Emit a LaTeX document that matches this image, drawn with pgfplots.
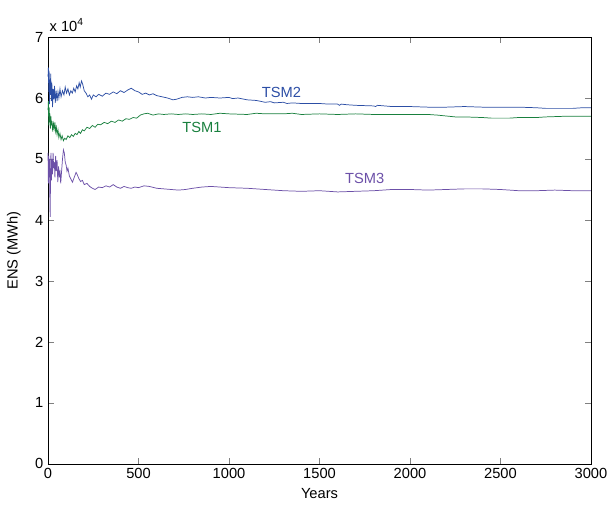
\documentclass[border=0pt]{standalone}
\usepackage{fontspec}
\setmainfont{Liberation Sans}
\usepackage{pgfplots}
\pgfplotsset{compat=1.18}

\definecolor{tsmblue}{RGB}{44,78,165}
\definecolor{tsmgreen}{RGB}{25,128,62}
\definecolor{tsmpurple}{RGB}{108,80,168}

\pgfplotstableread{
x y
0 6.35
2 6.50
4 6.10
6 6.45
8 5.90
10 6.30
12 6.05
15 6.40
18 5.95
21 6.25
25 5.85
28 6.15
32 5.98
36 6.20
40 5.92
45 6.12
50 5.95
55 6.10
60 6.00
66 6.15
72 6.02
80 6.12
88 6.05
95 6.18
102 6.08
110 6.15
118 6.05
126 6.12
134 6.08
142 6.16
150 6.10
158 6.20
165 6.15
172 6.25
178 6.18
185 6.28
192 6.22
200 6.12
210 6.08
220 6.02
230 6.05
240 5.98
250 6.05
265 6.02
280 6.06
300 6.03
320 6.08
340 6.06
360 6.10
380 6.07
400 6.12
420 6.09
440 6.13
460 6.16
480 6.12
500 6.10
520 6.06
540 6.08
560 6.05
580 6.07
600 6.04
630 6.02
660 6.00
690 5.97
710 5.98
740 6.01
770 6.02
800 6.01
830 6.02
870 6.00
900 6.01
950 6.00
1000 6.01
1020 5.99
1050 6.00
1100 5.97
1150 5.96
1200 5.93
1230 5.94
1250 5.92
1300 5.93
1320 5.91
1350 5.92
1400 5.91
1500 5.91
1550 5.90
1600 5.90
1610 5.88
1620 5.90
1650 5.89
1700 5.88
1800 5.87
1810 5.86
1820 5.88
1900 5.86
2000 5.86
2100 5.85
2200 5.85
2300 5.86
2400 5.85
2600 5.85
2700 5.84
2750 5.83
2900 5.83
2950 5.84
3000 5.84
}\tsmtwo

\pgfplotstableread{
x y
0 5.80
2 5.95
4 5.55
6 5.85
8 5.60
10 5.75
13 5.50
16 5.70
19 5.55
22 5.62
26 5.45
30 5.58
34 5.50
38 5.60
42 5.45
46 5.52
50 5.40
55 5.48
60 5.35
66 5.42
72 5.32
78 5.38
85 5.30
92 5.34
100 5.32
110 5.38
120 5.35
130 5.40
140 5.37
150 5.42
160 5.40
170 5.45
180 5.42
190 5.48
200 5.46
215 5.52
230 5.50
245 5.55
260 5.52
275 5.57
290 5.56
310 5.60
330 5.58
350 5.62
370 5.60
390 5.64
410 5.62
430 5.66
450 5.65
470 5.68
490 5.67
510 5.72
530 5.74
550 5.75
580 5.72
610 5.74
640 5.73
680 5.74
720 5.73
760 5.74
800 5.73
850 5.74
900 5.73
950 5.75
1000 5.74
1100 5.73
1150 5.75
1200 5.74
1300 5.74
1350 5.75
1400 5.73
1500 5.74
1600 5.73
1700 5.74
1800 5.73
1900 5.73
2000 5.73
2100 5.73
2150 5.72
2250 5.69
2300 5.69
2400 5.68
2450 5.67
2550 5.67
2600 5.68
2700 5.68
2750 5.69
2850 5.70
3000 5.70
}\tsmone

\pgfplotstableread{
x y
0 5.10
2 4.60
4 5.05
6 4.70
8 5.00
10 4.40
12 4.05
14 4.80
16 5.10
19 4.65
22 5.00
25 4.75
28 5.10
31 4.85
35 4.95
38 4.70
42 5.05
46 4.80
50 4.98
54 4.62
58 4.88
62 4.70
66 4.82
70 4.60
75 4.80
80 5.00
85 5.15
90 5.10
95 4.95
100 4.90
105 4.80
110 4.85
118 4.72
125 4.68
135 4.62
145 4.70
155 4.78
162 4.74
170 4.68
180 4.63
190 4.65
200 4.58
215 4.60
230 4.55
245 4.52
260 4.50
280 4.54
300 4.53
320 4.56
340 4.54
360 4.58
380 4.54
400 4.52
420 4.55
440 4.53
460 4.52
480 4.54
500 4.53
530 4.56
560 4.55
600 4.52
640 4.51
680 4.50
720 4.49
760 4.50
800 4.52
850 4.54
900 4.55
950 4.54
1000 4.53
1100 4.52
1200 4.50
1300 4.48
1400 4.47
1500 4.48
1600 4.46
1700 4.47
1800 4.48
1900 4.50
2000 4.50
2100 4.49
2200 4.50
2300 4.51
2400 4.51
2500 4.50
2600 4.48
2700 4.48
2800 4.49
2900 4.48
3000 4.48
}\tsmthree

\begin{document}
\begin{tikzpicture}
\begin{axis}[name=ax,
  scale only axis, width=407pt, height=320pt,
  font=\fontsize{11}{13}\selectfont,
  xmin=0, xmax=3000, ymin=0, ymax=7,
  xtick={0,500,...,3000}, ytick={0,1,...,7},
  tick align=inside, tick pos=both,
  /pgf/number format/assume math mode=true,
  /pgf/number format/set thousands separator={},
  xlabel={Years}, ylabel={ENS (MWh)},
  ylabel style={yshift=4pt},
  clip=false]
\addplot[tsmblue, line width=0.55pt] table {\tsmtwo};
\addplot[tsmgreen, line width=0.55pt] table {\tsmone};
\addplot[tsmpurple, line width=0.55pt] table {\tsmthree};
\node[tsmblue] at (axis cs:1290,6.09) {TSM2};
\node[tsmgreen] at (axis cs:850,5.52) {TSM1};
\node[tsmpurple] at (axis cs:1750,4.68) {TSM3};
\node[anchor=south west, inner sep=1pt] at (rel axis cs:0.0,1.01) {x 10$^{\mathrm{4}}$};
\end{axis}
\pgfresetboundingbox
\path (ax.south west) ++(-36pt,-32.25pt) rectangle ([shift={(13.5pt,27.75pt)}]ax.north east);
\end{tikzpicture}
\end{document}
